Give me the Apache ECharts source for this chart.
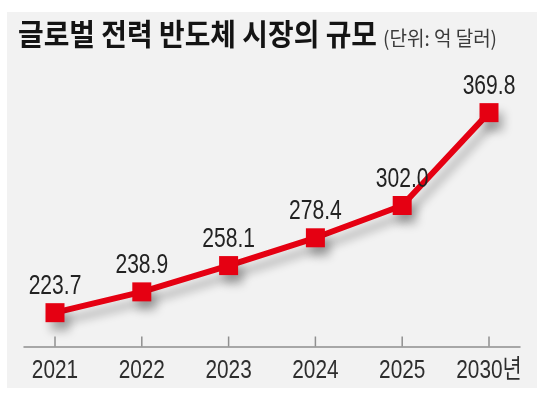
<!DOCTYPE html>
<html><head><meta charset="utf-8">
<script src="https://cdn.jsdelivr.net/npm/echarts@6/dist/echarts.min.js"></script>
<style>
html,body{margin:0;padding:0;background:#fff;width:546px;height:396px;overflow:hidden}
#chart{position:absolute;left:7px;top:12px;width:530px;height:376px}
</style>
</head><body><div id="chart"></div>
<script>
const years = ['2021', '2022', '2023', '2024', '2025', '2030년'];
const values = [223.7, 238.9, 258.1, 278.4, 302.0, 369.8];
const titleText = '글로벌 전력 반도체 시장의 규모';
const unitText = '(단위: 억 달러)';

const red = '#e50012';
const axisGrey = '#8f8f8f';
const numFont = '"Liberation Sans", "Noto Sans CJK KR", sans-serif';
const chart = echarts.init(document.getElementById('chart'), null, {renderer: 'canvas'});
chart.setOption({
  animation: false,
  backgroundColor: '#f2f2f2',
  graphic: [
    {type: 'text', x: 11, y: 21.5, scaleX: 0.93, silent: true,
     style: {text: titleText, font: 'bold 30px "Noto Sans CJK KR", sans-serif', fill: '#141414', align: 'left', verticalAlign: 'middle'}},
    {type: 'text', x: 376, y: 26, scaleX: 0.95, silent: true,
     style: {text: unitText, font: '20px "Noto Sans CJK KR", sans-serif', fill: '#3a3a3a', align: 'left', verticalAlign: 'middle'}}
  ],
  grid: [
    {left: 4.6, right: 4.6, top: 59.3, bottom: 41.5},
    {left: 17, right: 17, top: 324.5, bottom: 41.5}
  ],
  xAxis: [
    {gridIndex: 0, type: 'category', data: years, boundaryGap: true, show: false},
    {gridIndex: 1, type: 'value', min: 0, max: 1,
     axisLine: {show: true, lineStyle: {color: axisGrey, width: 1.5}},
     axisTick: {show: false}, axisLabel: {show: false}, splitLine: {show: false}}
  ],
  yAxis: [
    {gridIndex: 0, type: 'value', min: 199, max: 400, show: false, splitLine: {show: false}},
    {gridIndex: 1, type: 'value', min: 0, max: 1, show: false, splitLine: {show: false}}
  ],
  series: [{
    type: 'line', xAxisIndex: 0, yAxisIndex: 0, data: values, z: 2,
    symbol: 'rect', symbolSize: 19,
    lineStyle: {color: red, width: 6, shadowColor: 'rgba(0,0,0,0.28)', shadowBlur: 10, shadowOffsetX: 5, shadowOffsetY: 9},
    itemStyle: {color: red, shadowColor: 'rgba(0,0,0,0.28)', shadowBlur: 10, shadowOffsetX: 5, shadowOffsetY: 9},
    label: {show: false}
  }, {
    type: 'custom', xAxisIndex: 0, yAxisIndex: 0, z: 5, silent: true,
    data: years.map((y, i) => [y, values[i]]),
    renderItem: function (params, api) {
      const idx = api.value(0);
      const v = api.value(1);
      const pt = api.coord([idx, v]);
      const cs = params.coordSys;
      const base = cs.y + cs.height;
      return {type: 'group', children: [
        {type: 'rect', shape: {x: pt[0] - 0.75, y: base - 10, width: 1.5, height: 10},
         style: {fill: axisGrey, stroke: null}},
        {type: 'text', x: pt[0], y: pt[1] - 26, scaleX: 0.78,
         style: {text: v.toFixed(1), font: '27px ' + numFont, fill: '#222', align: 'center', verticalAlign: 'middle'}},
        {type: 'text', x: pt[0], y: base + 24.5, scaleX: 0.8,
         style: {text: years[idx], font: '26px ' + numFont, fill: '#2e2e2e', align: 'center', verticalAlign: 'middle'}}
      ]};
    }
  }]
});
</script></body></html>
